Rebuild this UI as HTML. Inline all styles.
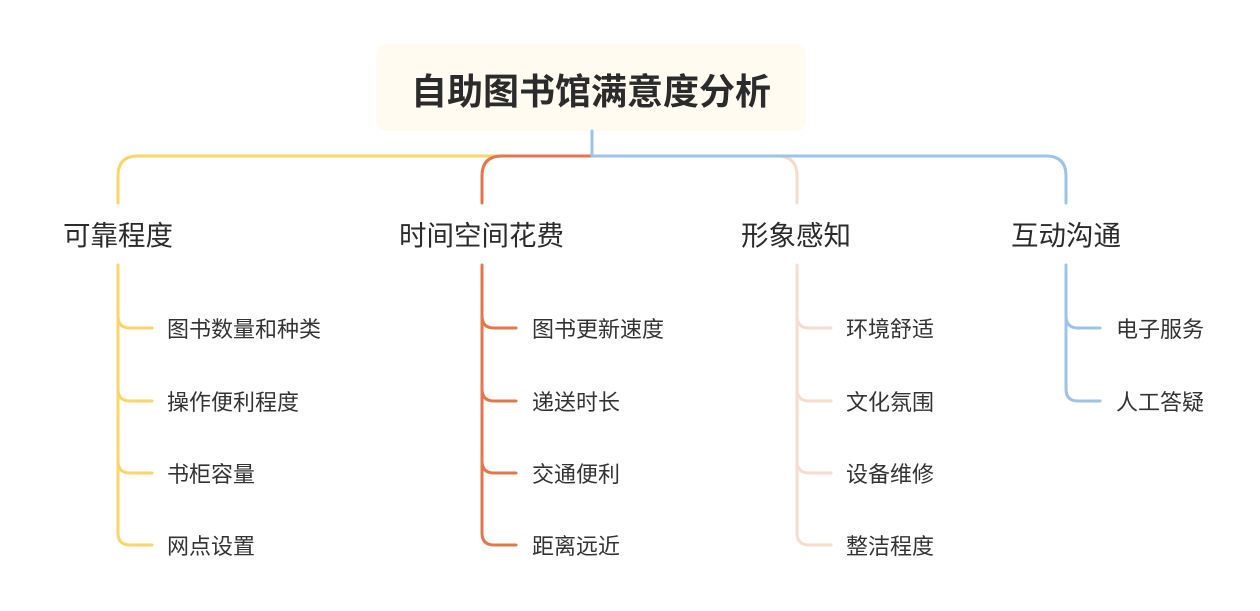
<!DOCTYPE html>
<html><head><meta charset="utf-8"><style>
body{margin:0;background:#fff;width:1260px;height:611px;overflow:hidden;position:relative;font-family:"Liberation Sans","Noto Sans CJK SC",sans-serif;color:#333}
.t{position:absolute;white-space:nowrap}
.b{font-size:27.5px;top:213px;color:#2b2b2b}
.l{font-size:22px;color:#333}
</style></head><body>
<svg width="1260" height="611" style="position:absolute;left:0;top:0" fill="none" stroke-width="3" stroke-linecap="round">
<rect x="376" y="44" width="430" height="87" rx="10" fill="#fffbf0" stroke="none"/>
<path d="M592 156 H138 Q118 156 118 176 V203" stroke="#fad56e"/>
<path d="M592 156 H777 Q797 156 797 176 V203" stroke="#f5dccf"/>
<path d="M592 156 H1046 Q1066 156 1066 176 V203" stroke="#9dc3e6"/>
<path d="M592 156 H502 Q482 156 482 176 V203" stroke="#e4764a"/>
<path d="M592 131 V156" stroke="#9dc3e6"/>
<g stroke="#fad56e"><path d="M118 265 V533 Q118 545 130 545 H152"/><path d="M118 316 Q118 328 130 328 H152 M118 389 Q118 401 130 401 H152 M118 461 Q118 473 130 473 H152"/></g>
<g stroke="#e4764a"><path d="M482 265 V533 Q482 545 494 545 H516"/><path d="M482 316 Q482 328 494 328 H516 M482 389 Q482 401 494 401 H516 M482 461 Q482 473 494 473 H516"/></g>
<g stroke="#f5dccf"><path d="M797 265 V533 Q797 545 809 545 H831"/><path d="M797 316 Q797 328 809 328 H831 M797 389 Q797 401 809 401 H831 M797 461 Q797 473 809 473 H831"/></g>
<g stroke="#9dc3e6"><path d="M1066 265 V389 Q1066 401 1078 401 H1100"/><path d="M1066 316 Q1066 328 1078 328 H1100"/></g>
</svg>
<div class="t" style="left:376px;width:430px;text-align:center;top:63px;font-size:36px;font-weight:bold;color:#2b2b2b">自助图书馆满意度分析</div>
<div class="t b" style="left:63px">可靠程度</div>
<div class="t b" style="left:399px">时间空间花费</div>
<div class="t b" style="left:741px">形象感知</div>
<div class="t b" style="left:1011px">互动沟通</div>
<div class="t l" style="left:167px;top:312px">图书数量和种类</div>
<div class="t l" style="left:167px;top:385px">操作便利程度</div>
<div class="t l" style="left:167px;top:457px">书柜容量</div>
<div class="t l" style="left:167px;top:529px">网点设置</div>
<div class="t l" style="left:532px;top:312px">图书更新速度</div>
<div class="t l" style="left:532px;top:385px">递送时长</div>
<div class="t l" style="left:532px;top:457px">交通便利</div>
<div class="t l" style="left:532px;top:529px">距离远近</div>
<div class="t l" style="left:846px;top:312px">环境舒适</div>
<div class="t l" style="left:846px;top:385px">文化氛围</div>
<div class="t l" style="left:846px;top:457px">设备维修</div>
<div class="t l" style="left:846px;top:529px">整洁程度</div>
<div class="t l" style="left:1116px;top:312px">电子服务</div>
<div class="t l" style="left:1116px;top:385px">人工答疑</div>
</body></html>
